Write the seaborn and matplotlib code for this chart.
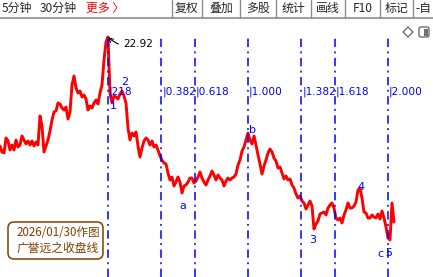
import numpy as np
import pandas as pd
import matplotlib
matplotlib.use("Agg")
import matplotlib.pyplot as plt
import matplotlib.transforms as mtransforms
from matplotlib.patches import FancyBboxPatch, Polygon, Rectangle
from matplotlib.lines import Line2D
import seaborn as sns

# ---------------- data ----------------
close = [
    17.47, 17.17, 17.12, 17.87, 17.72, 17.27, 17.52, 17.27, 17.77, 17.42,
    17.52, 17.97, 17.77, 17.57, 17.72, 17.52, 17.72, 17.47, 17.67, 17.52,
    18.97, 18.47, 17.17, 17.47, 17.77, 18.22, 18.77, 19.17, 19.22, 19.62,
    19.57, 19.37, 19.27, 19.42, 18.82, 19.17, 20.52, 20.97, 20.37, 20.12,
    20.22, 19.92, 20.02, 19.82, 19.27, 19.47, 19.37, 19.62, 19.77, 19.57,
    20.12, 20.52, 21.77, 22.67, 22.92, 20.12, 19.62, 19.97, 19.92, 19.82,
    20.07, 20.22, 19.97, 19.62, 18.37, 17.77, 18.12, 17.97, 18.17, 17.47,
    16.92, 17.37, 17.72, 17.87, 17.77, 17.52, 17.72, 17.42, 17.52, 17.27,
    16.97, 16.77, 16.62, 16.57, 16.12, 15.77, 15.92, 15.47, 15.67, 15.92,
    15.67, 15.12, 15.47, 15.52, 15.67, 15.87, 15.87, 15.62, 15.72, 15.92,
    16.17, 15.87, 15.67, 15.52, 15.77, 15.97, 16.22, 16.02, 15.77, 16.02,
    15.87, 15.77, 15.47, 15.72, 15.87, 15.77, 15.87, 15.92, 16.07, 16.52,
    16.77, 17.22, 17.42, 17.77, 18.12, 17.77, 17.57, 17.97, 17.52, 17.02,
    16.57, 16.07, 16.47, 16.77, 17.12, 17.32, 17.17, 16.87, 16.72, 16.37,
    16.42, 16.12, 15.82, 15.97, 15.77, 15.82, 15.52, 15.37, 15.07, 14.87,
    14.97, 14.72, 14.62, 14.32, 14.52, 14.72, 14.47, 13.32, 13.57, 13.72,
    14.07, 14.12, 14.17, 14.02, 14.37, 14.52, 14.62, 14.37, 13.87, 13.77,
    13.87, 13.62, 14.02, 14.27, 14.62, 14.37, 14.37, 14.47, 14.67, 15.27,
    15.37, 14.87, 14.17, 14.12, 13.87, 13.87, 14.02, 13.92, 13.87, 14.07,
    13.82, 14.22, 13.87, 13.42, 12.87, 12.77, 14.62, 13.67,
]

fib_ratios = [0.0, 0.382, 0.618, 1.0, 1.382, 1.618, 2.0]
fib_labels = ["218", "0.382", "0.618", "1.000", "1.382", "1.618", "2.000"]

wave_names = ["1", "2", "a", "b", "3", "4", "c", "5"]
wave_idx = [54, 61, 91, 124, 157, 180, 195, 195]
# label offsets from the wave point, in pixels (dx right, dy down)
wave_off = [(5, 69), (3, -9), (1, 13), (4, -3), (-1, 11), (1, -1), (-10, 14), (-1, 13)]

toolbar_left = ["5分钟", "30分钟"]
toolbar_more = "更多 〉"
toolbar_buttons = ["复权", "叠加", "多股", "统计", "画线", "F10", "标记"]
toolbar_last = "-自"
note_lines = ["2026/01/30作图", "广誉远之收盘线"]

# ---------------- style ----------------
sns.set_style("white")
plt.rcParams["font.family"] = ["Noto Sans CJK SC", "DejaVu Sans"]
plt.rcParams["lines.scale_dashes"] = False

W, H = 433, 277
fig = plt.figure(figsize=(W / 100, H / 100), dpi=100)
fig.patch.set_facecolor("white")
ax = fig.add_axes([0, 0, 1, 1])

df = pd.DataFrame({"idx": np.arange(len(close)), "close": close})
sns.lineplot(data=df, x="idx", y="close", ax=ax, color="#ff0000",
             linewidth=2.1, legend=False)
ax.set_xlim(0, W / 2)
ax.set_ylim(24.77 - 0.05 * H, 24.77)
ax.axis("off")

PX = 0.72  # points per pixel
FS = 7.6

# pixel transform for figure decorations (x right, y down)
T = mtransforms.Affine2D().scale(1 / W, -1 / H).translate(0, 1) + fig.transFigure

# ---------------- fibonacci time lines ----------------
start = int(np.argmax(close))
end = wave_idx[wave_names.index("b")]
blue = "#0000ff"
top_frac = 1 - 37 / H
lab_frac = 1 - 92 / H
btrans = mtransforms.blended_transform_factory(ax.transData, ax.transAxes)
for r, lab in zip(fib_ratios, fib_labels):
    xv = start + r * (end - start)
    ax.axvline(xv, ymin=0, ymax=top_frac, color=blue, linewidth=1.1,
               linestyle=(0, (6, 3.2, 1.4, 3.2)))
    ax.text(xv + 0.5, lab_frac, "|" + lab, transform=btrans, color=blue,
            fontsize=FS, family="DejaVu Sans", ha="left", va="center")

# ---------------- wave labels ----------------
for name, i, (dx, dy) in zip(wave_names, wave_idx, wave_off):
    ax.annotate(name, xy=(i, close[i]), xytext=(dx * PX, -dy * PX),
                textcoords="offset points", color=blue, fontsize=8.0,
                family="DejaVu Sans", ha="center", va="center")

# ---------------- peak annotation ----------------
ax.annotate(f"{close[start]:.2f}", xy=(start, close[start]),
            xytext=(15 * PX, -7 * PX), textcoords="offset points",
            fontsize=FS, family="DejaVu Sans", color="black",
            ha="left", va="center",
            arrowprops=dict(arrowstyle="->", color="black", lw=0.8,
                            shrinkA=1, shrinkB=0,
                            connectionstyle="arc3,rad=-0.3"))

# ---------------- toolbar ----------------
gray = "#8c8c8c"
fig.add_artist(Line2D([0, W], [18, 18], transform=T, color=gray, lw=1.2))
seps = [172, 202, 240, 276, 311, 345, 380, 413]
for s in seps:
    fig.add_artist(Line2D([s, s], [0, 18], transform=T, color=gray, lw=1.0))
fs_tb = 8.6
fig.text(2, 8.5, toolbar_left[0], transform=T, fontsize=fs_tb, ha="left", va="center")
fig.text(40, 8.5, toolbar_left[1], transform=T, fontsize=fs_tb, ha="left", va="center")
fig.text(86, 8.5, toolbar_more, transform=T, fontsize=fs_tb, ha="left", va="center",
         color="#ff0000")
for k, b in enumerate(toolbar_buttons):
    cx = (seps[k] + seps[k + 1]) / 2
    fig.text(cx, 8.5, b, transform=T, fontsize=fs_tb, ha="center", va="center")
fig.text(415, 8.5, toolbar_last, transform=T, fontsize=fs_tb, ha="left", va="center")

# icons
fig.add_artist(Polygon([[408, 27], [413, 32], [408, 37], [403, 32]], closed=True,
                       transform=T, fill=False, edgecolor="#606060", lw=0.9))
fig.add_artist(FancyBboxPatch((419, 27), 10, 10, boxstyle="round,pad=0,rounding_size=2",
                              transform=T, fill=False, edgecolor="#707070", lw=1.0))
fig.add_artist(Rectangle((424, 28.5), 3.5, 7, transform=T, facecolor="#707070",
                         edgecolor="none"))

# ---------------- note box ----------------
brown = "#7f4000"
fig.add_artist(FancyBboxPatch((8, 222), 95, 37, boxstyle="round,pad=0,rounding_size=6",
                              transform=T, fill=False, edgecolor=brown, lw=1.1))
fig.text(58, 232, note_lines[0], transform=T, fontsize=8.3, color=brown,
         ha="center", va="center")
fig.text(58, 248, note_lines[1], transform=T, fontsize=8.5, color=brown,
         ha="center", va="center")

fig.savefig("out.png", dpi=100)
